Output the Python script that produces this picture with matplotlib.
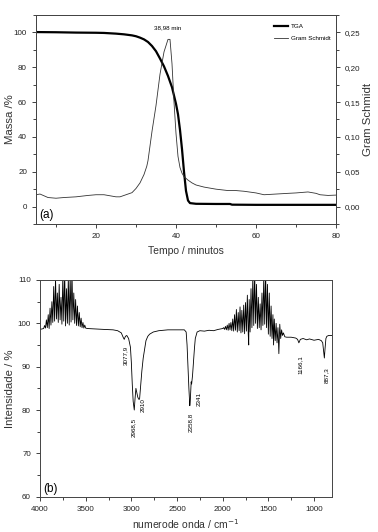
import matplotlib
matplotlib.use("Agg")
import matplotlib.pyplot as plt
from matplotlib.ticker import MultipleLocator, FuncFormatter

plt.rcParams['font.family'] = ['Liberation Sans', 'DejaVu Sans']

# ---------------- Panel (a): TGA and Gram-Schmidt ----------------
tga_t = [5, 10, 15, 20, 22, 25, 27, 29, 30, 31, 32, 33, 34, 35, 36, 37, 38, 39,
         40, 40.5, 41, 41.5, 42, 42.5, 43, 43.5, 45, 50, 53.5, 54, 60, 70, 80]
tga_m = [100.2, 100.1, 99.9, 99.8, 99.7, 99.3, 98.9, 98.3, 97.8, 97.0, 96.0, 94.5,
         92.2, 89.2, 85.0, 80.5, 75.0, 68.5, 59.0, 53.0, 44.0, 33.0, 20.0, 9.0,
         3.5, 2.0, 1.6, 1.5, 1.5, 1.1, 1.0, 1.0, 1.0]

gs_t = [5, 6, 8, 10, 12, 15, 18, 20, 22, 24, 25, 26, 28, 29, 30, 31, 32, 32.7, 33,
        34, 35, 36, 37, 38, 38.5, 39, 39.5, 40, 40.5, 41, 41.5, 42, 43, 44, 45, 47,
        50, 53, 55, 57, 60, 62, 65, 68, 70, 73, 75, 76, 78, 80]
gs_v = [0.017, 0.018, 0.013, 0.012, 0.013, 0.014, 0.016, 0.017, 0.017, 0.015,
        0.014, 0.014, 0.018, 0.020, 0.026, 0.034, 0.046, 0.058, 0.066,
        0.108, 0.145, 0.190, 0.222, 0.240, 0.240, 0.205, 0.150, 0.105, 0.072,
        0.056, 0.048, 0.043, 0.038, 0.034, 0.031, 0.028, 0.025, 0.023, 0.023,
        0.022, 0.0196, 0.017, 0.018, 0.019, 0.0196, 0.021, 0.019, 0.017, 0.016,
        0.0165]

peak_label = "38,98 min"

# ---------------- Panel (b): FTIR spectrum ----------------
ir_x = [4000, 3980, 3960, 3950, 3940, 3930, 3920, 3910, 3900, 3890, 3880, 3870,
        3860, 3850, 3840, 3830, 3820, 3810, 3800, 3790, 3780, 3770, 3760, 3750,
        3740, 3730, 3720, 3710, 3700, 3690, 3680, 3670, 3660, 3650, 3640, 3630,
        3620, 3610, 3600, 3590, 3580, 3570, 3560, 3550, 3540, 3530, 3520, 3510,
        3500, 3480, 3400, 3300, 3200, 3150, 3110, 3090, 3078, 3065, 3050, 3030,
        3010, 3000, 2990, 2980, 2968, 2960, 2950, 2940, 2930, 2920, 2910, 2900,
        2885, 2870, 2855, 2840, 2820, 2800, 2760, 2700, 2600, 2500, 2420, 2400,
        2390, 2380, 2370, 2360, 2355, 2350, 2345, 2340, 2330, 2320, 2310, 2300,
        2280, 2250, 2200, 2150, 2100, 2050, 2000,
        1990, 1980, 1970, 1960, 1950, 1940, 1930, 1920, 1910, 1900, 1890, 1880,
        1870, 1860, 1850, 1840, 1830, 1820, 1810, 1800, 1790, 1780, 1770, 1760,
        1750, 1740, 1730, 1720, 1715, 1710, 1700, 1690, 1680, 1670, 1660, 1650,
        1640, 1630, 1620, 1610, 1600, 1590, 1580, 1570, 1560, 1550, 1540, 1530,
        1520, 1510, 1500, 1490, 1480, 1470, 1460, 1450, 1443, 1435, 1425, 1415,
        1405, 1395, 1385, 1375, 1365, 1355, 1345, 1335, 1320, 1300, 1250, 1200,
        1180, 1166, 1150, 1120, 1080, 1050, 1000, 950, 920, 905, 895, 887, 880,
        870, 860, 840, 800]
ir_y = [98.6, 98.7, 98.8, 99.5, 98.9, 100.8, 99.0, 102.0, 98.8, 103.5, 99.6, 105.0,
        100.2, 108.5, 100.5, 110.5, 101.0, 107.0, 100.2, 109.0, 100.8, 106.0, 99.8, 111.0,
        100.5, 112.0, 99.4, 108.0, 100.0, 110.5, 99.6, 111.0, 100.3, 112.0, 100.8, 107.0,
        100.0, 105.5, 99.5, 104.0, 99.4, 102.5, 99.2, 101.2, 99.0, 100.2, 98.9, 99.6,
        98.9, 98.8, 98.7, 98.6, 98.5, 98.3, 97.8, 96.8, 96.3, 97.0, 97.2, 96.5,
        94.5, 91.0, 86.0, 82.0, 80.0, 82.5, 85.0, 84.0, 83.0, 82.5, 82.5, 85.0,
        89.0, 92.0, 94.0, 96.0, 97.0, 97.5, 98.0, 98.3, 98.5, 98.5, 98.5, 98.0,
        95.0, 90.0, 85.0, 81.0, 82.0, 84.5, 86.5, 86.0, 88.0, 91.0, 94.0, 96.5,
        98.0, 98.3, 98.2, 98.4, 98.3, 98.6, 98.8,
        99.0, 98.6, 99.3, 98.5, 99.6, 98.4, 100.0, 98.5, 100.2, 98.3, 101.0, 98.2,
        102.0, 98.4, 103.2, 98.0, 102.5, 98.3, 103.8, 97.8, 103.0, 98.0, 104.2, 97.6,
        104.8, 98.2, 106.5, 97.5, 95.0, 105.5, 98.0, 108.0, 99.0, 111.0, 99.5, 112.0,
        100.0, 109.0, 98.8, 106.0, 99.0, 104.5, 98.5, 107.0, 99.5, 111.0, 99.8, 112.0,
        99.0, 109.0, 97.5, 107.0, 97.0, 104.0, 96.5, 102.0, 95.0, 101.0, 96.0, 100.0,
        95.5, 99.0, 93.0, 99.8, 96.5, 98.5, 97.2, 97.8, 96.9, 96.8, 96.8, 96.6,
        96.3, 95.5, 96.3, 96.5, 96.2, 96.4, 96.1, 96.3, 96.0, 95.5, 93.5, 92.0, 94.0,
        96.5, 97.0, 97.2, 97.2]

band_labels = ["3077,9", "2968,5", "2910", "2358,8", "2341", "1166,1", "887,3"]
band_x = [3067, 2979, 2869, 2353, 2255, 1146, 861]
band_y = [94.8, 78.2, 82.8, 79.3, 84.2, 92.7, 89.9]

W, H = 378, 532
fig = plt.figure(figsize=(W / 100, H / 100), dpi=100)

tick_fs = 5.8
xlab_fs = 7.5
ylab_fs = 8.2
lab_col = '#333333'
comma = FuncFormatter(lambda v, p: f"{v:.2f}".replace('.', ','))

# ----- top panel -----
ax1 = fig.add_axes([36 / W, (H - 224) / H, 300 / W, 209 / H])
ax1.plot(tga_t, tga_m, color='black', lw=1.6, label='TGA')
ax1.set_xlim(5, 80)
ax1.set_ylim(-10, 110)
ax1.xaxis.set_major_locator(MultipleLocator(20))
ax1.xaxis.set_minor_locator(MultipleLocator(10))
ax1.yaxis.set_major_locator(MultipleLocator(20))
ax1.yaxis.set_minor_locator(MultipleLocator(10))
ax1.set_ylabel("Massa /%", fontsize=ylab_fs, color=lab_col)
ax1.yaxis.set_label_coords(-0.07, 0.5)
ax1.set_xlabel("Tempo / minutos", fontsize=xlab_fs, color=lab_col)
ax1.xaxis.set_label_coords(0.5, -0.105)
ax1.text(0.012, 0.015, "(a)", transform=ax1.transAxes, fontsize=8.5, ha='left', va='bottom')
ax1.text(38, 101.5, peak_label, fontsize=4.5, ha='center', va='bottom')

ax2 = ax1.twinx()
ax2.plot(gs_t, gs_v, color='#333333', lw=0.6, label='Gram Schmidt')
ax2.set_ylim(-0.025, 0.275)
ax2.yaxis.set_major_locator(MultipleLocator(0.05))
ax2.yaxis.set_minor_locator(MultipleLocator(0.025))
ax2.yaxis.set_major_formatter(comma)
ax2.set_ylabel("Gram Schmidt", fontsize=ylab_fs, color=lab_col)
ax2.yaxis.set_label_coords(1.09, 0.5)

h1, l1 = ax1.get_legend_handles_labels()
h2, l2 = ax2.get_legend_handles_labels()
ax1.legend(h1 + h2, l1 + l2, loc='upper right', frameon=False, fontsize=4.5,
           handlelength=2.2, handletextpad=0.5, bbox_to_anchor=(1.0, 0.985),
           labelspacing=1.0)

for a in (ax1, ax2):
    a.tick_params(which='both', direction='out', labelsize=tick_fs, colors='#222222')
    a.tick_params(which='major', length=3, width=0.6)
    a.tick_params(which='minor', length=2, width=0.6)
    for s in a.spines.values():
        s.set_linewidth(0.7)
        s.set_color('#444444')

# ----- bottom panel -----
ax3 = fig.add_axes([40 / W, (H - 496.7) / H, 292.3 / W, 216.7 / H])
ax3.plot(ir_x, ir_y, color='black', lw=0.6)
ax3.set_xlim(4000, 800)
ax3.set_ylim(60, 110)
ax3.xaxis.set_major_locator(MultipleLocator(500))
ax3.xaxis.set_minor_locator(MultipleLocator(250))
ax3.yaxis.set_major_locator(MultipleLocator(10))
ax3.yaxis.set_minor_locator(MultipleLocator(5))
ax3.tick_params(which='both', direction='out', labelsize=tick_fs, colors='#222222')
ax3.tick_params(which='major', length=3, width=0.6)
ax3.tick_params(which='minor', length=2, width=0.6)
for s in ax3.spines.values():
    s.set_linewidth(0.7)
    s.set_color('#444444')
ax3.set_ylabel("Intensidade / %", fontsize=ylab_fs, color=lab_col)
ax3.yaxis.set_label_coords(-0.085, 0.5)
ax3.set_xlabel("numerode onda / cm$^{-1}$", fontsize=xlab_fs, color=lab_col)
ax3.xaxis.set_label_coords(0.5, -0.093)
ax3.text(0.012, 0.01, "(b)", transform=ax3.transAxes, fontsize=8.5, ha='left', va='bottom')
for lbl, bx, by in zip(band_labels, band_x, band_y):
    ax3.text(bx, by, lbl, rotation=90, fontsize=4.5, ha='center', va='top')

fig.savefig("out.png", dpi=100)
